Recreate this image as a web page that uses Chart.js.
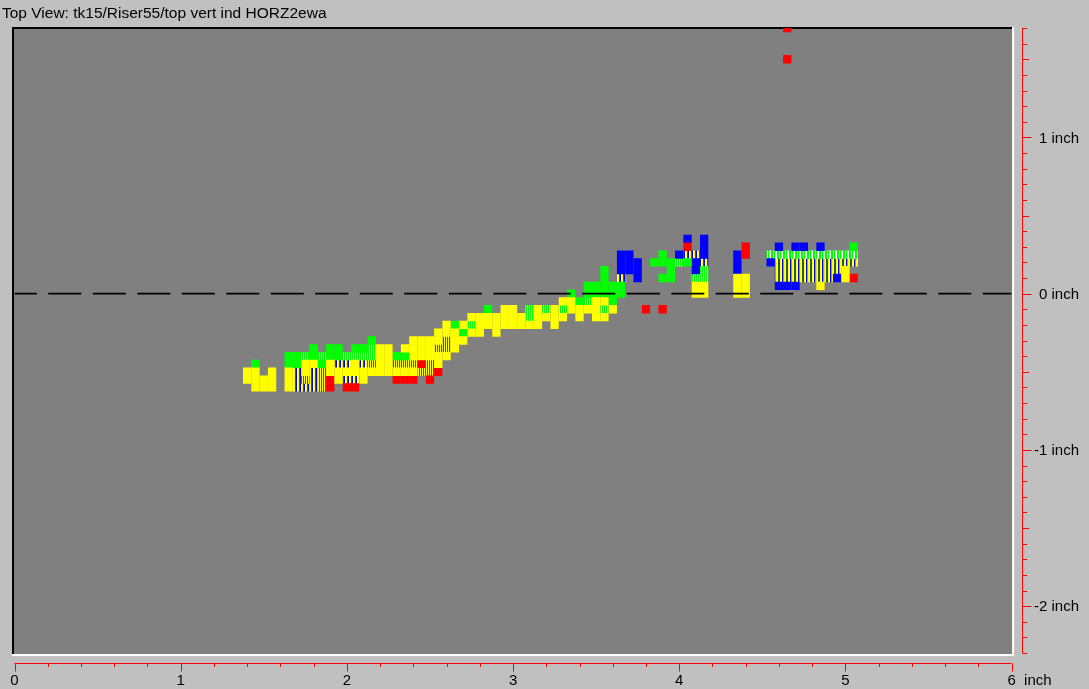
<!DOCTYPE html>
<html>
<head>
<meta charset="utf-8">
<title>Top View</title>
<script src="https://cdn.jsdelivr.net/npm/chart.js@4.4.1/dist/chart.umd.min.js"></script>
<style>
  html, body { margin: 0; padding: 0; background: #c0c0c0; overflow: hidden; }
  canvas { display: block; }
</style>
</head>
<body>
<canvas id="view" width="1089" height="689"></canvas>
<script>
// ---- labels and ticks ----
const titleText = 'Top View: tk15/Riser55/top vert ind HORZ2ewa';
const xTickValues = [0, 1, 2, 3, 4, 5, 6];
const xTickLabels = ['0', '1', '2', '3', '4', '5', '6'];
const xUnitLabel = 'inch';
const yTickValues = [1, 0, -1, -2];
const yTickLabels = ['1 inch', '0 inch', '-1 inch', '-2 inch'];

// ---- zero reference line (inch) ----
const zeroLine = [[0, 0], [6, 0]];

// ---- indication cells, [x inch, y inch] ----
const yellowCells = [
  [1.40,-0.50],[1.40,-0.55],
  [1.45,-0.50],[1.45,-0.55],[1.45,-0.60],
  [1.50,-0.55],[1.50,-0.60],
  [1.55,-0.50],[1.55,-0.55],[1.55,-0.60],
  [1.65,-0.50],[1.65,-0.55],[1.65,-0.60],
  [1.75,-0.45],[1.75,-0.50],
  [1.80,-0.45],
  [1.90,-0.45],[1.90,-0.50],
  [1.95,-0.50],[1.95,-0.55],
  [2.00,-0.50],
  [2.05,-0.45],[2.05,-0.50],
  [2.10,-0.50],[2.10,-0.55],
  [2.15,-0.50],
  [2.20,-0.35],[2.20,-0.40],[2.20,-0.45],[2.20,-0.50],
  [2.25,-0.35],[2.25,-0.40],[2.25,-0.45],[2.25,-0.50],
  [2.30,-0.50],
  [2.35,-0.35],[2.35,-0.50],
  [2.40,-0.30],[2.40,-0.35],[2.40,-0.40],[2.40,-0.50],
  [2.45,-0.30],[2.45,-0.35],[2.45,-0.40],
  [2.50,-0.30],[2.50,-0.35],[2.50,-0.40],
  [2.55,-0.25],[2.55,-0.30],[2.55,-0.40],[2.55,-0.45],
  [2.60,-0.20],[2.60,-0.25],[2.60,-0.40],
  [2.65,-0.25],[2.65,-0.30],[2.65,-0.35],
  [2.70,-0.20],[2.70,-0.30],
  [2.75,-0.15],[2.75,-0.25],
  [2.80,-0.15],[2.80,-0.20],[2.80,-0.25],
  [2.85,-0.15],[2.85,-0.20],
  [2.90,-0.15],[2.90,-0.20],[2.90,-0.25],
  [2.95,-0.10],[2.95,-0.15],[2.95,-0.20],
  [3.00,-0.10],[3.00,-0.15],[3.00,-0.20],
  [3.05,-0.15],[3.05,-0.20],
  [3.10,-0.20],
  [3.15,-0.10],[3.15,-0.15],[3.15,-0.20],
  [3.20,-0.15],
  [3.25,-0.10],[3.25,-0.15],[3.25,-0.20],
  [3.30,-0.05],[3.30,-0.15],
  [3.35,-0.05],[3.35,-0.10],
  [3.40,-0.10],[3.40,-0.15],
  [3.45,-0.10],
  [3.50,-0.05],[3.50,-0.10],[3.50,-0.15],
  [3.55,-0.05],[3.55,-0.15],
  [3.60,-0.10],
  [4.10,0.05],[4.10,0.00],
  [4.15,0.05],[4.15,0.00],
  [4.35,0.10],[4.35,0.05],[4.35,0.00],
  [4.40,0.10],[4.40,0.05],[4.40,0.00],
  [4.85,0.05],
  [5.00,0.15],[5.00,0.10]
];

const greenCells = [
  [1.45,-0.45],
  [1.65,-0.40],[1.65,-0.45],
  [1.70,-0.40],[1.70,-0.45],
  [1.80,-0.35],[1.80,-0.40],
  [1.85,-0.45],
  [1.90,-0.35],[1.90,-0.40],
  [1.95,-0.35],[1.95,-0.40],
  [2.05,-0.35],
  [2.10,-0.35],
  [2.15,-0.30],
  [2.30,-0.40],[2.35,-0.40],
  [2.65,-0.20],
  [2.70,-0.25],
  [2.85,-0.10],
  [3.35,0.00],
  [3.40,-0.05],
  [3.45,0.05],[3.45,0.00],
  [3.50,0.05],[3.50,0.00],
  [3.55,0.15],[3.55,0.10],[3.55,0.05],[3.55,0.00],
  [3.60,0.05],[3.60,0.00],[3.60,-0.05],
  [3.65,0.05],[3.65,0.00],
  [3.85,0.20],
  [3.90,0.25],[3.90,0.20],[3.90,0.10],
  [3.95,0.20],[3.95,0.15],[3.95,0.10],
  [4.05,0.20],
  [5.05,0.30]
];

const redCells = [
  [1.90,-0.55],[1.90,-0.60],
  [2.00,-0.60],
  [2.05,-0.60],
  [2.30,-0.55],
  [2.35,-0.55],
  [2.40,-0.55],
  [2.45,-0.45],
  [2.50,-0.55],
  [2.55,-0.50],
  [3.80,-0.10],
  [3.90,-0.10],
  [4.05,0.30],
  [4.40,0.30],[4.40,0.25],
  [5.05,0.10],
  [4.65,1.50],[4.65,1.70]
];

const blueCells = [
  [3.65,0.25],[3.65,0.20],[3.65,0.15],
  [3.70,0.25],[3.70,0.20],[3.70,0.15],
  [3.75,0.20],[3.75,0.15],[3.75,0.10],
  [4.00,0.25],
  [4.05,0.35],
  [4.10,0.20],[4.10,0.15],
  [4.15,0.35],[4.15,0.30],[4.15,0.25],
  [4.35,0.25],[4.35,0.20],[4.35,0.15],
  [4.55,0.20],
  [4.60,0.30],[4.70,0.30],[4.75,0.30],[4.85,0.30],
  [4.60,0.05],[4.65,0.05],[4.70,0.05],
  [4.95,0.10]
];

// cells hit by green and yellow indications
const greenYellowCells = [
  [1.75,-0.40],[1.85,-0.40],[2.00,-0.40],[2.05,-0.40],[2.10,-0.40],
  [2.15,-0.35],[2.15,-0.40],[2.75,-0.20],[3.10,-0.10],[3.10,-0.15],
  [3.20,-0.10],[3.30,-0.10],[3.45,-0.05],[3.55,-0.10],[4.00,0.20],
  [4.10,0.10],[4.15,0.15],[4.15,0.10]
];

// cells hit by yellow and red indications
const yellowRedCells = [
  [1.75,-0.55],[1.85,-0.50],[1.85,-0.55],[1.85,-0.60],[2.15,-0.45],
  [2.30,-0.45],[2.35,-0.45],[2.40,-0.45],[2.45,-0.50],[2.50,-0.45],
  [2.50,-0.50],[2.55,-0.35],[2.60,-0.30],[2.60,-0.35]
];

// cells hit by several indication levels
const mixedCells = [
  [1.70,-0.50],[1.70,-0.55],[1.70,-0.60],[1.75,-0.60],
  [1.80,-0.50],[1.80,-0.55],[1.80,-0.60],[1.95,-0.45],[2.00,-0.45],
  [2.00,-0.55],[2.05,-0.55],[2.10,-0.45],[3.65,0.10],[4.05,0.25],
  [4.10,0.25],[4.15,0.20]
];

const bandTopCells = [
  [4.55,0.25],[4.60,0.25],[4.65,0.25],[4.70,0.25],[4.75,0.25],[4.80,0.25],
  [4.85,0.25],[4.90,0.25],[4.95,0.25],[5.00,0.25],[5.05,0.25]
];

const bandLowCells = [
  [4.60,0.20],[4.65,0.20],[4.70,0.20],[4.75,0.20],[4.80,0.20],
  [4.85,0.20],[4.90,0.20],[4.95,0.20],[5.00,0.20],[5.05,0.20],
  [4.60,0.15],[4.65,0.15],[4.70,0.15],[4.75,0.15],[4.80,0.15],
  [4.85,0.15],[4.90,0.15],[4.95,0.15],
  [4.60,0.10],[4.65,0.10],[4.70,0.10],[4.75,0.10],[4.80,0.10],
  [4.85,0.10],[4.90,0.10]
];

// ---- drawing ----
const toXY = pts => pts.map(([x, y]) => ({ x, y }));

// one-pixel vertical stripe fill for shared cells
function stripes(colors) {
  const c = document.createElement('canvas');
  c.width = colors.length;
  c.height = 1;
  const g = c.getContext('2d');
  colors.forEach((col, i) => { g.fillStyle = col; g.fillRect(i, 0, 1, 1); });
  return g.createPattern(c, 'repeat');
}

const YEL = '#ffff00', GRN = '#00ff00', RED = '#ff0000', BLU = '#0000ff', WHT = '#ffffff', DRK = '#206020';
const CELL_SIDE = 8.3;
const CELL_R = CELL_SIDE / (2 * Math.SQRT1_2);

const cellSet = (label, pts, fill) => ({
  type: 'scatter',
  label,
  data: toXY(pts),
  pointStyle: 'rect',
  pointRadius: CELL_R,
  pointHoverRadius: CELL_R,
  backgroundColor: fill,
  pointBackgroundColor: fill,
  borderWidth: 0,
  pointBorderWidth: 0,
  clip: 0,
  order: 1
});

const panelPlugin = {
  id: 'panel',
  beforeDraw(chart) {
    const { ctx, width, height, chartArea: a } = chart;
    ctx.save();
    ctx.fillStyle = '#c0c0c0';
    ctx.fillRect(0, 0, width, height);
    // sunken plot panel
    const L = a.left - 2.5, T = a.top - 1, R = a.right + 1.5, B = a.bottom + 2;
    ctx.fillStyle = '#808080';
    ctx.fillRect(L, T, R - L, B - T);
    ctx.fillStyle = '#000000';
    ctx.fillRect(L, T, R - L, 2);
    ctx.fillRect(L, T, 2, B - T);
    ctx.fillStyle = '#ffffff';
    ctx.fillRect(R - 1, T, 2, B - T + 1);
    ctx.fillRect(L, B - 1, R - L + 1, 2);
    // title
    ctx.fillStyle = '#000000';
    ctx.font = '15.5px "Liberation Sans", Arial, sans-serif';
    ctx.textAlign = 'left';
    ctx.textBaseline = 'middle';
    ctx.fillText(titleText, 2, 14);
    ctx.restore();
  },
  afterDraw(chart) {
    const { ctx, chartArea: a, scales: { x, y } } = chart;
    ctx.save();
    ctx.strokeStyle = '#ff0000';
    ctx.lineWidth = 1;
    ctx.fillStyle = '#000000';
    ctx.font = '15px "Liberation Sans", Arial, sans-serif';

    // right-hand axis
    const ax = Math.round(a.right + 10) + 0.5;
    ctx.beginPath();
    ctx.moveTo(ax, y.getPixelForValue(y.max));
    ctx.lineTo(ax, y.getPixelForValue(y.min));
    for (let k = Math.ceil(y.min * 10); k <= Math.floor(y.max * 10); k++) {
      const py = Math.round(y.getPixelForValue(k / 10)) + 0.5;
      const len = k % 10 === 0 ? 9 : (k % 5 === 0 ? 6.5 : 4.5);
      ctx.moveTo(ax, py);
      ctx.lineTo(ax + len, py);
    }
    ctx.stroke();
    ctx.textAlign = 'left';
    ctx.textBaseline = 'middle';
    const minusW = ctx.measureText('-').width;
    yTickValues.forEach((v, i) => {
      const txt = yTickLabels[i];
      const shift = txt.startsWith('-') ? minusW : 0;
      ctx.fillText(txt, ax + 16.5 - shift, y.getPixelForValue(v) + 1);
    });

    // bottom axis
    const by = Math.round(a.bottom + 10) + 0.5;
    ctx.beginPath();
    ctx.moveTo(x.getPixelForValue(x.min), by);
    ctx.lineTo(x.getPixelForValue(x.max), by);
    for (let k = 0; k <= Math.round(x.max * 5); k++) {
      const px = Math.round(x.getPixelForValue(k / 5)) + 0.5;
      const len = k % 5 === 0 ? 8 : 3.5;
      ctx.moveTo(px, by);
      ctx.lineTo(px, by + len);
    }
    ctx.stroke();
    ctx.textAlign = 'center';
    ctx.textBaseline = 'middle';
    xTickValues.forEach((v, i) => ctx.fillText(xTickLabels[i], x.getPixelForValue(v), by + 17));
    ctx.textAlign = 'left';
    ctx.fillText(xUnitLabel, x.getPixelForValue(x.max) + 12.5, by + 17);
    ctx.restore();
  }
};

new Chart(document.getElementById('view'), {
  type: 'scatter',
  data: {
    datasets: [
      {
        type: 'line',
        label: 'zero',
        data: toXY(zeroLine),
        borderColor: '#000000',
        borderWidth: 1.6,
        borderDash: [33, 11.5],
        borderDashOffset: 10.7,
        pointRadius: 0,
        fill: false,
        clip: 0,
        order: 0
      },
      cellSet('yellow', yellowCells, YEL),
      cellSet('green', greenCells, GRN),
      cellSet('red', redCells, RED),
      cellSet('blue', blueCells, BLU),
      cellSet('green/yellow', greenYellowCells, stripes([GRN, YEL])),
      cellSet('yellow/red', yellowRedCells, stripes([YEL, RED])),
      cellSet('mixed', mixedCells, stripes([BLU, WHT, YEL, RED])),
      cellSet('band upper', bandTopCells, stripes([GRN, YEL, WHT, GRN, GRN, YEL])),
      cellSet('band lower', bandLowCells, stripes([YEL, WHT, DRK, RED, YEL, WHT, BLU, GRN]))
    ]
  },
  options: {
    responsive: false,
    animation: false,
    events: [],
    layout: { padding: { left: 14.5, right: 77.4, top: 28, bottom: 36 } },
    scales: {
      x: { type: 'linear', min: 0, max: 6, display: false },
      y: { type: 'linear', min: -2.3, max: 1.7, display: false }
    },
    plugins: {
      legend: { display: false },
      tooltip: { enabled: false },
      title: { display: false }
    }
  },
  plugins: [panelPlugin]
});
</script>
</body>
</html>
